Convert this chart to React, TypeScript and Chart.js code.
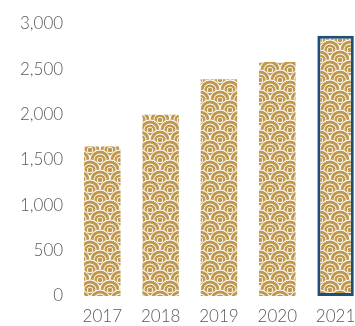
import React, { useEffect, useRef } from "react";
import { Chart, registerables } from "chart.js";

Chart.register(...registerables);

const categories = ["2017", "2018", "2019", "2020", "2021"];
const values = [1650, 2000, 2390, 2580, 2870];
const yTicks = [0, 500, 1000, 1500, 2000, 2500, 3000];

const GOLD = "#BF984D";
const BLUE = "#1F4E79";

function makePattern(ctx: CanvasRenderingContext2D): CanvasPattern | string {
  const tile = document.createElement("canvas");
  const W = 20;
  const H = 20;
  tile.width = W;
  tile.height = H;
  const t = tile.getContext("2d");
  if (!t) return GOLD;
  t.fillStyle = "#ffffff";
  t.fillRect(0, 0, W, H);
  const rings: [number, string][] = [
    [10.5, "#ffffff"],
    [9.6, GOLD],
    [6.5, "#ffffff"],
    [5.6, GOLD],
    [3.1, "#ffffff"],
    [2.3, GOLD],
  ];
  for (let k = -2; k <= 4; k++) {
    const cy = k * 10;
    const off = Math.abs(k) % 2 === 1 ? 10 : 0;
    for (let j = -1; j <= 2; j++) {
      const cx = off + j * 20;
      for (const [r, c] of rings) {
        t.beginPath();
        t.arc(cx, cy, r, 0, Math.PI * 2);
        t.fillStyle = c;
        t.fill();
      }
    }
  }
  return ctx.createPattern(tile, "repeat") || GOLD;
}

export default function App() {
  const ref = useRef<HTMLCanvasElement | null>(null);
  useEffect(() => {
    document.body.style.margin = "0";
    const canvas = ref.current;
    if (!canvas) return;
    const ctx = canvas.getContext("2d");
    if (!ctx) return;
    const pattern = makePattern(ctx);
    const last = values.length - 1;
    const chart = new Chart(canvas, {
      type: "bar",
      data: {
        datasets: [
          {
            data: values.map((v, i) => ({ x: i, y: v })),
            backgroundColor: pattern as any,
            borderColor: values.map((_, i) => (i === last ? BLUE : "rgba(0,0,0,0)")),
            borderWidth: values.map((_, i) => (i === last ? 3 : 0)),
            borderSkipped: false,
            barPercentage: 0.625,
            categoryPercentage: 1,
          },
        ],
      },
      options: {
        animation: false,
        responsive: false,
        maintainAspectRatio: false,
        layout: { padding: { left: 10, right: 0, top: 24, bottom: 0 } },
        plugins: { legend: { display: false }, tooltip: { enabled: false } },
        scales: {
          x: {
            type: "linear",
            offset: false,
            min: -0.5,
            max: 4.333,
            afterBuildTicks: (scale: any) => {
              scale.ticks = categories.map((_, i) => ({ value: i }));
            },
            afterFit: (scale: any) => {
              scale.paddingLeft = 0;
              scale.paddingRight = 0;
              scale.height = 30;
            },
            grid: { display: false, drawTicks: false },
            border: { display: false },
            ticks: {
              color: "#595959",
              font: { family: "Lato", size: 17, weight: 300 },
              padding: 10,
              maxRotation: 0,
              autoSkip: false,
              callback: (v: any) => {
                const n = Number(v);
                return Number.isInteger(n) && categories[n] !== undefined ? categories[n] : "";
              },
            },
          },
          y: {
            min: 0,
            max: 3000,
            afterBuildTicks: (scale: any) => {
              scale.ticks = yTicks.map((v) => ({ value: v }));
            },
            grid: { display: false, drawTicks: false },
            border: { display: false },
            ticks: {
              color: "#595959",
              font: { family: "Lato", size: 17, weight: 300 },
              padding: 10,
              callback: (v: any) => Number(v).toLocaleString("en-US"),
            },
          },
        },
      },
    });
    return () => chart.destroy();
  }, []);
  return (
    <div style={{ position: "absolute", left: 0, top: 0, width: 355, height: 326 }}>
      <canvas ref={ref} width={355} height={326} style={{ width: 355, height: 326, display: "block" }} />
    </div>
  );
}
